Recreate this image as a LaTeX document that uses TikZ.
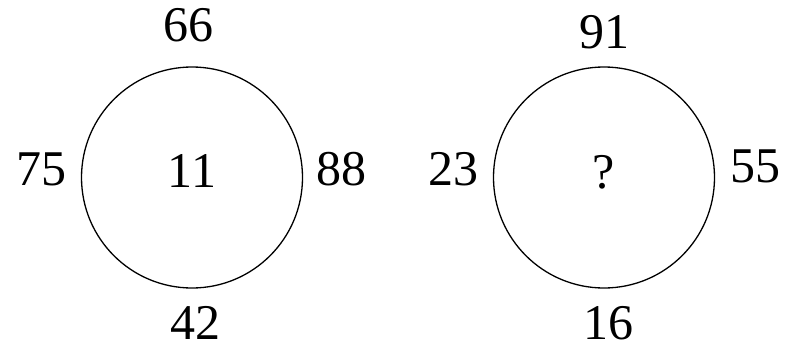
\documentclass[tikz,border=0pt]{standalone}
\usepackage{fontspec}
\setmainfont{Liberation Serif}
\usetikzlibrary{positioning}

\begin{document}
\begin{tikzpicture}[x=1pt, y=-1pt, node distance=15pt]
    \tikzstyle{ring} = [circle, draw, line width=1.3pt, minimum size=221pt, inner sep=0pt, outer sep=0pt]
    \tikzstyle{num} = [inner sep=0pt, outer sep=0pt, font=\fontsize{50}{50}\selectfont]

    \useasboundingbox (0,0) rectangle (788,348);

    % the two circles
    \node[ring] (left) at (192,177.5) {};
    \node[ring, right=191pt of left] (right) {};

    % left circle numbers
    \node[num, yshift=6.5pt] (lmid) at (left) {11};
    \node[num, above=25pt of left, xshift=-4pt] (ltop) {66};
    \node[num, left=15pt of left, yshift=8pt] (lwest) {75};
    \node[num, right=14pt of left, yshift=8pt] (least) {88};
    \node[num, below=18pt of left, xshift=3pt] (lbot) {42};

    % right circle numbers
    \node[num, yshift=5pt] (rmid) at (right) {?};
    \node[num, above=18pt of right] (rtop) {91};
    \node[num, left=15pt of right, yshift=8pt] (rwest) {23};
    \node[num, right=16pt of right, yshift=11pt] (reast) {55};
    \node[num, below=18pt of right, xshift=4pt] (rbot) {16};
\end{tikzpicture}
\end{document}
